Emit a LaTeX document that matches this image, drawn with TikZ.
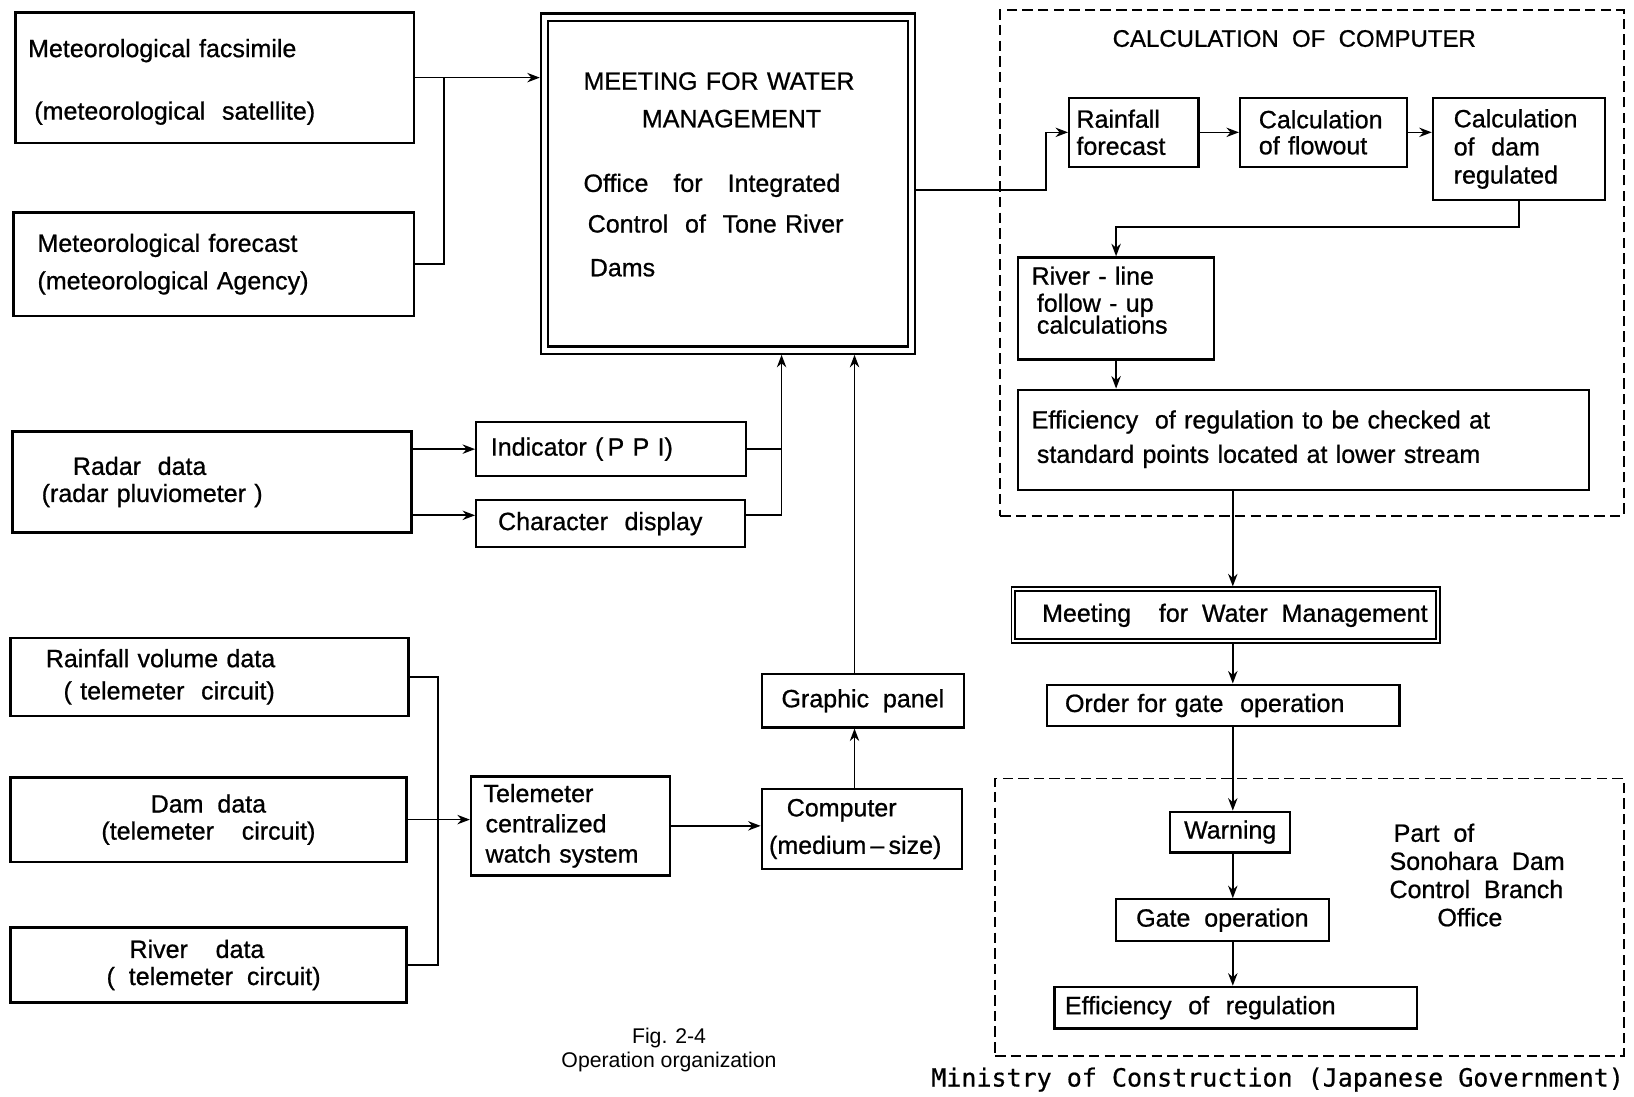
\documentclass[tikz,border=0pt]{standalone}
\usepackage{fontspec}
\setmainfont{Liberation Sans}[WordSpace=2,FakeBold=0.8]
\newfontfamily\figcapfont{Liberation Sans}
\newfontfamily\minfont{DejaVu Sans Mono}[FakeBold=0.6]
\usetikzlibrary{arrows.meta}
\newcommand{\boxfont}{\fontsize{12}{14}\selectfont}
\tikzset{
 bx/.style={draw, line width=1.1pt, inner ysep=0pt, font=\boxfont},
 bl/.style={bx, align=left},
 bc/.style={bx, align=center},
 arr/.style={line width=0.8pt, -{Stealth[length=6pt,width=4.5pt]}},
 ln/.style={line width=0.8pt},
 dbox/.style={draw, dash pattern=on 5pt off 2.5pt, line width=0.9pt, inner sep=0pt},
}
\begin{document}
\begin{tikzpicture}[x=0.5pt,y=-0.5pt]
\useasboundingbox (0,0) rectangle (1568,1052);
% top left sources
\node[bl, inner xsep=6pt, text width=179pt, minimum height=62.5pt] (fax) at (206,74.5)
 {\rule{0pt}{12.8pt}Meteorological facsimile\\[16pt]\hspace*{3pt}(meteorological\ \ satellite)};
\node[bl, inner xsep=11.5pt, text width=169pt, minimum height=49.5pt] (fcst) at (205,253.5)
 {Meteorological forecast\\[4pt](meteorological Agency)};
% main meeting box
\node[draw, double, double distance=2.5pt, line width=1pt, outer sep=2.25pt, inner ysep=0pt,
 inner xsep=18.75pt, text width=138.5pt, minimum height=159.75pt, align=left, font=\boxfont] (meet) at (698.5,176.25)
 {MEETING FOR WATER\\[4pt]\hspace*{28pt}MANAGEMENT\\[17pt]Office\ \ \ for\ \ \ Integrated\\[5.5pt]\hspace*{2pt}Control\ \ of\ \ Tone River\\[7pt]\hspace*{3pt}Dams\\[-5pt]\mbox{}};
% calculation of computer
\node[dbox, minimum width=299pt, minimum height=242.5pt] (calc) at (1259,252.5) {};
\node[font=\fontsize{11.5}{13}\selectfont, inner sep=0pt] (calct) at (1242,37) {CALCULATION OF COMPUTER};
\node[bl, inner xsep=3.5pt, text width=55pt, minimum height=33pt] (rf) at (1088,127) {Rainfall\\[-1pt]forecast};
\node[bl, inner xsep=9pt, text width=62pt, minimum height=33pt] (cf) at (1270,127) {Calculation\\[-1.5pt]of flowout};
\node[bl, inner xsep=10pt, text width=62.5pt, minimum height=49pt] (cd) at (1457.5,143) {Calculation\\[-0.5pt]of\ \ dam\\[-0.5pt]regulated};
\node[bl, inner xsep=6.5pt, text width=81pt, minimum height=49pt] (rl) at (1071,296)
 {River - line\\[-1pt]\hspace*{2.5pt}follow - up\\[-3.5pt]\hspace*{2.5pt}calculations\\[-6pt]\mbox{}};
\node[bl, inner xsep=6.5pt, text width=261pt, minimum height=48pt] (eff1) at (1251,422)
 {Efficiency\ \ of regulation to be checked at\\[2.5pt]\hspace*{2.5pt}standard points located at lower stream\\[-11pt]\mbox{}};
% lower right chain
\node[draw, double, double distance=1pt, line width=0.9pt, outer sep=1.4pt, minimum width=203.5pt,
 minimum height=25pt, inner sep=0pt, font=\boxfont] (smeet) at (1176,590.5) {\hspace{9pt}Meeting\ \ for Water Management};
\node[bl, inner xsep=8.5pt, text width=152pt, minimum height=20pt] (order) at (1174,677) {Order for gate\ \ operation};
\node[dbox, minimum width=301.5pt, minimum height=133pt] (sono) at (1256.5,880) {};
\node[bx, minimum width=57.5pt, minimum height=19.5pt, inner xsep=0pt] (warn) at (1180.5,798.5) {Warning};
\node[bx, minimum width=102pt, minimum height=20pt, inner xsep=0pt] (gate) at (1173,883) {Gate operation};
\node[bl, inner xsep=5pt, text width=164pt, minimum height=20pt] (eff2) at (1186,967) {Efficiency\ \ of\ \ regulation};
\node[font=\boxfont, align=left, anchor=north west, inner sep=0pt] (sonotxt) at (1333,790)
 {\hspace*{2pt}Part of\\[-0.5pt]Sonohara Dam\\[-0.5pt]Control Branch\\[-0.5pt]\hspace*{23pt}Office};
\node[font=\minfont\fontsize{12}{14}\selectfont, inner sep=0pt] (mini) at (1226,1036)
 {Ministry of Construction (Japanese Government)};
\node[font=\figcapfont\fontsize{10.2}{11.5}\selectfont, align=center, inner sep=0pt] (cap) at (642,1008)
 {Fig. 2-4\\Operation organization};
% radar
\node[bl, inner xsep=14pt, text width=163.5pt, minimum height=48.5pt] (radar) at (203.5,462.5)
 {\hspace*{15pt}Radar\ \ data\\[-1pt](radar pluviometer )};
\node[bl, inner xsep=7pt, text width=115.5pt, minimum height=26pt] (ind) at (586.5,431) {Indicator\ (\,P P I)};
\node[bl, inner xsep=10.5pt, text width=108pt, minimum height=22.5pt] (chr) at (586,502.5) {Character\ \ display};
% telemeter chain
\node[bx, minimum width=97pt, minimum height=25.5pt, inner xsep=0pt] (gp) at (828,672.5) {Graphic panel};
\node[bl, inner xsep=3.5pt, text width=89pt, minimum height=38.5pt] (comp) at (827,795.5)
 {\hspace*{8.5pt}Computer\\[4pt](medium\,--\,size)};
\node[bl, inner xsep=6pt, text width=83.5pt, minimum height=47.5pt] (tel) at (547.5,792.5)
 {Telemeter\\[0.5pt]\hspace*{1pt}centralized\\[0.5pt]\hspace*{1pt}watch system};
\node[bl, inner xsep=17pt, text width=157pt, minimum height=37.5pt] (rv) at (201,649.5)
 {Rainfall volume data\\[1.5pt]\hspace*{8.5pt}( telemeter\ \ circuit)};
\node[bc, minimum width=190pt, minimum height=40.5pt, inner xsep=0pt] (dam) at (200,786.5)
 {Dam data\\[-1pt](telemeter\ \ circuit)};
\node[bc, minimum width=190pt, minimum height=36pt, inner xsep=0pt] (river) at (200,926)
 {River\ \ data\hspace*{11pt}\\[-1pt]\hspace*{5pt}( telemeter circuit)};
% connectors
\coordinate (j1) at (426,74.5);
\coordinate (k1) at (1004,127);
\coordinate (sp) at (1183,0);
\coordinate (v1) at (750,0);
\coordinate (v2) at (820,0);
\coordinate (v3) at (420,0);
\coordinate (chrin) at ([yshift=4pt]chr.west);
\coordinate (chrout) at ([yshift=4pt]chr.east);
\draw[arr] (fax.east) -- (fax.east -| meet.west);
\draw[ln] (fcst.east) -| (j1);
\draw[arr] ([yshift=-3pt]meet.east) -| (k1) -- (rf.west);
\draw[arr] (rf.east) -- (rf.east -| cf.west);
\draw[arr] (cf.east) -- (cf.east -| cd.west);
\draw[arr] (cd.south) -- ++(0,25) -| (rl.north);
\draw[arr] (rl.south) -- (rl.south |- eff1.north);
\draw[arr] (sp |- eff1.south) -- (sp |- smeet.north);
\draw[arr] (sp |- smeet.south) -- (sp |- order.north);
\draw[arr] (sp |- order.south) -- (sp |- warn.north);
\draw[arr] (sp |- warn.south) -- (sp |- gate.north);
\draw[arr] (sp |- gate.south) -- (sp |- eff2.north);
\draw[arr] (radar.east |- ind.west) -- (ind.west);
\draw[arr] (radar.east |- chrin) -- (chrin);
\draw[ln] (ind.east) -- (ind.east -| v1);
\draw[arr] (chrout) -| (v1 |- meet.south);
\draw[arr] (v2 |- comp.north) -- (v2 |- gp.south);
\draw[arr] (v2 |- gp.north) -- (v2 |- meet.south);
\draw[arr] (tel.east) -- (tel.east -| comp.west);
\draw[arr] (dam.east) -- (dam.east -| tel.west);
\draw[ln] (rv.east) -| (v3 |- river.east) -- (river.east);
\end{tikzpicture}
\end{document}
